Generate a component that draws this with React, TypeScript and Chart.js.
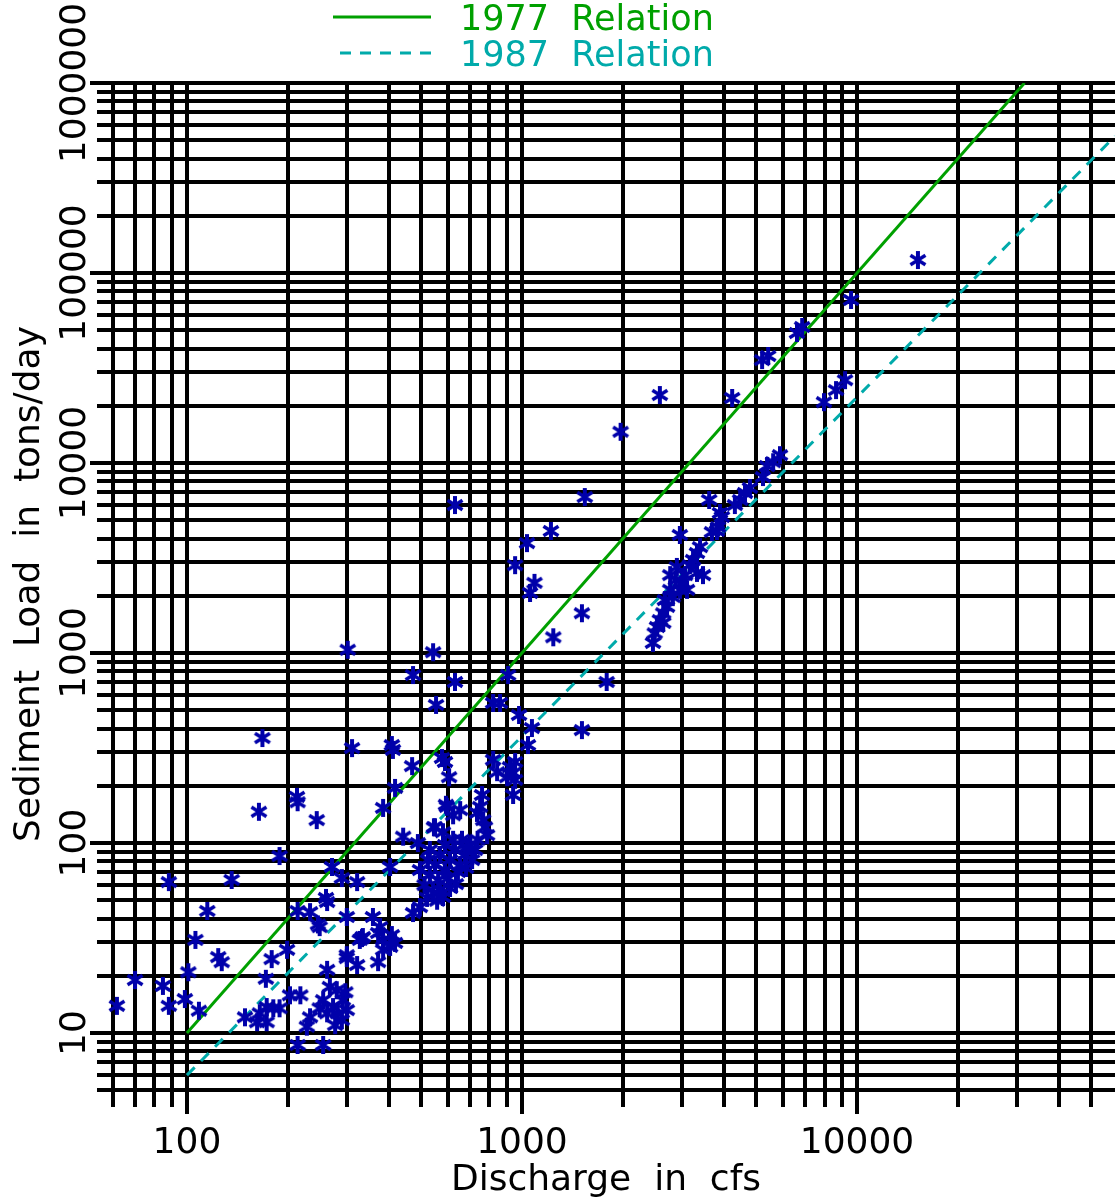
import React, { useEffect, useRef } from 'react';
import { Chart, registerables } from 'chart.js';

Chart.register(...registerables);

const W = 1115;
const H = 1203;
const FONT = "'DejaVu Sans', 'Noto Sans', sans-serif";
const GREEN = '#00A000';
const CYAN = '#00AAAA';
const BLUE = '#0000AA';

// axis ranges and labels
const xRange = [53.9, 58900];
const yRange = [4.08, 1000000];
const xTickLabels = [100, 1000, 10000];
const yTickLabels = [10, 100, 1000, 10000, 100000, 1000000];
const xTitle = 'Discharge  in  cfs';
const yTitle = 'Sediment  Load  in  tons/day';
const legendLabels = ['1977  Relation', '1987  Relation'];

// rating relations (end points of each line: discharge, load)
const relation1977Q = [100, 31623];
const relation1977Load = [10, 1000000];
const relation1987Q = [100, 58900];
const relation1987Load = [6.0, 525000];

// samples [discharge cfs, load tons/day]
const highFlowSamples: [number, number][] = [
  [15200, 117000], [9600, 72100], [6620, 48300], [6860, 52000], [5210, 34800], [5430, 36600],
  [2580, 22800], [4240, 22000], [1970, 14600], [9210, 27300], [8660, 24200], [7970, 20900],
  [5890, 11000], [5620, 10100], [5390, 9640], [5240, 8440], [4790, 7390], [4630, 6950],
  [4480, 6390], [4320, 6010], [3620, 6390], [3950, 5200], [3850, 4600], [3690, 4330],
  [2960, 4180], [3400, 3610], [3330, 3360], [3240, 3090], [2900, 2840], [2770, 2570],
  [3330, 2640], [3470, 2570], [3020, 2340], [2960, 2150], [2820, 1970], [2710, 1750],
  [2640, 1620], [2580, 1490], [2530, 1370], [2490, 1270], [2460, 1130], [3110, 2150],
  [2640, 1440], [3820, 4390], [3900, 5460], [3170, 2900], [2880, 2420], [2670, 1900],
  [2770, 2150], [3070, 2570],
];

const midFlowSamples: [number, number][] = [
  [631, 6010], [1220, 4390], [1540, 6620], [954, 2900], [1035, 3790], [1090, 2340],
  [1057, 2070], [1510, 1620], [1240, 1210],
  [302, 1040], [543, 1010], [473, 766], [631, 704], [554, 533], [909, 766], [820, 546],
  [860, 546], [1790, 704], [980, 472], [1071, 403], [1042, 328], [1510, 393], [311, 316],
  [409, 328], [412, 309], [168, 357], [470, 254], [577, 280], [606, 222], [589, 267],
  [921, 251], [941, 234], [903, 222], [954, 215], [941, 179], [820, 274], [843, 236],
  [954, 267], [213, 175], [214, 164], [164, 146], [244, 132], [385, 153], [418, 195],
  [593, 159], [546, 121], [442, 108], [489, 100], [189, 85.4], [271, 74.8], [290, 65.4],
  [322, 62.3], [404, 74.8], [88.3, 62.3], [136, 63.9], [260, 51.4],
];

const clusterSamples: [number, number][] = [
  [473, 42.8], [496, 46.0], [521, 51.4], [543, 54.6], [558, 49.7], [581, 52.0], [550, 121],
  [581, 114], [597, 155], [654, 149], [623, 140], [750, 155], [760, 179], [766, 132],
  [776, 121], [737, 104], [702, 97.7], [676, 86.5], [654, 76.6], [631, 91.9], [610, 81.4],
  [589, 72.1], [569, 86.5], [550, 76.6], [531, 67.9], [524, 81.4], [512, 60.1], [562, 63.9],
  [602, 65.4], [644, 70.4], [681, 73.9], [710, 81.4], [725, 91.9], [623, 104], [589, 97.7],
  [662, 104], [569, 56.6], [610, 58.0], [635, 60.8], [531, 91.9], [496, 72.1], [734, 144],
  [787, 110], [686, 95.4],
];

const lowFlowSamples: [number, number][] = [
  [115, 43.9], [106, 30.9], [124, 25.1], [127, 23.6], [101, 20.9], [70, 19.0], [84.8, 17.7],
  [61.8, 13.9], [88.3, 13.9], [98.6, 15.1], [108.6, 13.1], [179, 24.5], [199, 27.4],
  [172, 19.3], [149, 12.1], [165, 12.7], [173, 13.7], [181, 13.5], [189, 13.5], [162, 11.4],
  [173, 11.4], [218, 15.8], [203, 15.8], [233, 12.1], [228, 10.8], [214, 8.65], [255, 8.65],
  [214, 43.9], [233, 43.3], [262, 48.9], [246, 37.3], [300, 40.8], [335, 32.0], [328, 30.9],
  [300, 25.7], [322, 22.8], [359, 40.8], [372, 23.6], [262, 21.5], [267, 17.5], [280, 16.8],
  [255, 14.9], [273, 13.7], [292, 14.9], [262, 12.7], [282, 12.7], [300, 13.2], [290, 11.7],
  [277, 11.0], [249, 13.5], [297, 16.4], [385, 30.9], [404, 28.4], [385, 27.4], [372, 33.6],
  [377, 36.1], [333, 31.6], [409, 32.8], [418, 29.8], [300, 24.8], [249, 36.1],
];

function gridValues(min: number, max: number) {
  const out: { value: number; major: boolean }[] = [];
  for (let e = Math.floor(Math.log10(min)); e <= Math.ceil(Math.log10(max)); e++) {
    for (let m = 1; m <= 9; m++) {
      const v = m * Math.pow(10, e);
      if (v >= min - 1e-9 && v <= max + 1e-9) out.push({ value: v, major: m === 1 });
    }
  }
  return out;
}

function makeAsterisk(): HTMLCanvasElement {
  const c = document.createElement('canvas');
  c.width = 22;
  c.height = 22;
  const g = c.getContext('2d')!;
  g.strokeStyle = BLUE;
  g.lineCap = 'butt';
  g.lineWidth = 4;
  g.beginPath();
  g.moveTo(11, 2);
  g.lineTo(11, 20);
  g.stroke();
  g.lineWidth = 3.6;
  g.beginPath();
  g.moveTo(3.5, 6.3);
  g.lineTo(18.5, 15.7);
  g.moveTo(3.5, 15.7);
  g.lineTo(18.5, 6.3);
  g.stroke();
  return c;
}

const textPlugin = {
  id: 'textPlugin',
  afterDraw(chart: any) {
    const ctx = chart.ctx as CanvasRenderingContext2D;
    const xs = chart.scales.x;
    const ys = chart.scales.y;
    ctx.save();
    ctx.fillStyle = '#000';
    ctx.font = `36px ${FONT}`;
    ctx.textAlign = 'center';
    ctx.textBaseline = 'alphabetic';
    for (const v of xTickLabels) ctx.fillText(String(v), xs.getPixelForValue(v), 1153);
    ctx.fillText(xTitle, 606, 1190);
    for (const v of yTickLabels) {
      ctx.save();
      ctx.translate(85, ys.getPixelForValue(v));
      ctx.rotate(-Math.PI / 2);
      ctx.fillText(String(v), 0, 0);
      ctx.restore();
    }
    ctx.save();
    ctx.translate(39, 584);
    ctx.rotate(-Math.PI / 2);
    ctx.fillText(yTitle, 0, 0);
    ctx.restore();

    // legend
    ctx.lineWidth = 3;
    ctx.strokeStyle = GREEN;
    ctx.setLineDash([]);
    ctx.beginPath();
    ctx.moveTo(333, 17);
    ctx.lineTo(431, 17);
    ctx.stroke();
    ctx.strokeStyle = CYAN;
    ctx.setLineDash([11, 9]);
    ctx.beginPath();
    ctx.moveTo(340, 53);
    ctx.lineTo(431, 53);
    ctx.stroke();
    ctx.setLineDash([]);
    ctx.textAlign = 'left';
    ctx.font = `35px ${FONT}`;
    ctx.fillStyle = GREEN;
    ctx.fillText(legendLabels[0], 460, 30);
    ctx.fillStyle = CYAN;
    ctx.fillText(legendLabels[1], 460, 66);
    ctx.restore();
  },
};

function axisOptions(range: number[], position: 'bottom' | 'left') {
  return {
    type: 'logarithmic' as const,
    position,
    min: range[0],
    max: range[1],
    z: 1,
    border: { display: false },
    grid: {
      color: '#000',
      lineWidth: 4,
      drawTicks: true,
      tickLength: 7,
      tickWidth: 4,
      tickColor: (c: any) => (c.tick && c.tick.major ? '#000' : 'rgba(0,0,0,0)'),
    },
    ticks: { display: false },
    afterBuildTicks: (scale: any) => {
      scale.ticks = gridValues(range[0], range[1]);
    },
  };
}

export default function App() {
  const ref = useRef<HTMLCanvasElement | null>(null);
  useEffect(() => {
    document.body.style.margin = '0';
    const canvas = ref.current!;
    const star = makeAsterisk();
    const toPts = (arr: [number, number][]) => arr.map(([x, y]) => ({ x, y }));
    const samples = [
      ...toPts(highFlowSamples),
      ...toPts(midFlowSamples),
      ...toPts(clusterSamples),
      ...toPts(lowFlowSamples),
    ];
    const chart = new Chart(canvas, {
      type: 'scatter',
      data: {
        datasets: [
          {
            type: 'scatter',
            label: 'Samples',
            data: samples,
            pointStyle: star as any,
            pointRadius: 9,
            borderColor: BLUE,
            backgroundColor: BLUE,
          },
          {
            type: 'line',
            label: legendLabels[0],
            data: relation1977Q.map((q, i) => ({ x: q, y: relation1977Load[i] })),
            borderColor: GREEN,
            borderWidth: 3,
            pointRadius: 0,
            fill: false,
            clip: 0 as any,
          },
          {
            type: 'line',
            label: legendLabels[1],
            data: relation1987Q.map((q, i) => ({ x: q, y: relation1987Load[i] })),
            borderColor: CYAN,
            borderWidth: 3,
            borderDash: [11, 9],
            pointRadius: 0,
            fill: false,
            clip: 0 as any,
          },
        ],
      },
      options: {
        responsive: false,
        animation: false,
        devicePixelRatio: 1,
        events: [],
        layout: { padding: { left: 90, right: 0, top: 83, bottom: 89 }, autoPadding: false },
        plugins: { legend: { display: false }, tooltip: { enabled: false }, title: { display: false } },
        scales: {
          x: axisOptions(xRange, 'bottom') as any,
          y: axisOptions(yRange, 'left') as any,
        },
      },
      plugins: [textPlugin],
    });
    return () => chart.destroy();
  }, []);
  return (
    <div style={{ width: W, height: H, background: '#fff' }}>
      <canvas ref={ref} width={W} height={H} style={{ display: 'block', width: W, height: H }} />
    </div>
  );
}
